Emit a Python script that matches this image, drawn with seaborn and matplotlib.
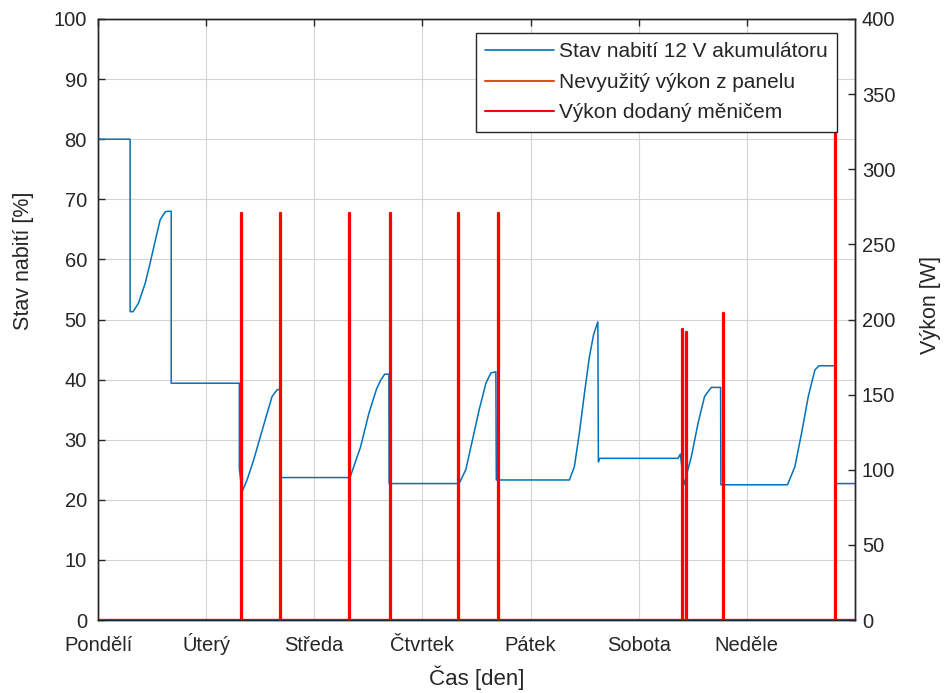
import numpy as np
import pandas as pd
import matplotlib
matplotlib.use("Agg")
import matplotlib.pyplot as plt
from matplotlib.lines import Line2D
import seaborn as sns

# ---------------- data ----------------
day_ticks = [0, 1, 2, 3, 4, 5, 6]
day_labels = ["Pondělí", "Úterý", "Středa", "Čtvrtek", "Pátek", "Sobota", "Neděle"]

# state of charge of the 12 V battery [%] vs time [days]
soc_day = [0.000, 0.297, 0.297, 0.324, 0.374, 0.436, 0.482, 0.528, 0.575, 0.621,
           0.640, 0.677, 0.677, 1.307, 1.307, 1.332, 1.378, 1.439, 1.501, 1.564,
           1.610, 1.656, 1.682, 1.684, 2.320, 2.336, 2.428, 2.505, 2.577, 2.614,
           2.651, 2.690, 2.692, 3.339, 3.401, 3.463, 3.525, 3.587, 3.633, 3.679,
           3.683, 4.359, 4.405, 4.451, 4.498, 4.544, 4.583, 4.622, 4.627, 4.640,
           5.363, 5.385, 5.418, 5.487, 5.548, 5.609, 5.671, 5.757, 5.760, 6.376,
           6.444, 6.506, 6.568, 6.629, 6.666, 6.820, 6.822, 7.000]
soc_pct = [80.0, 80.0, 51.3, 51.3, 52.7, 56.0, 59.4, 63.0, 66.6, 67.9,
           68.0, 68.0, 39.4, 39.4, 25.2, 21.3, 23.3, 26.6, 30.5, 34.4,
           37.2, 38.3, 38.4, 23.7, 23.7, 24.0, 28.8, 34.4, 38.5, 39.9,
           40.9, 40.9, 22.7, 22.7, 25.0, 30.0, 35.0, 39.4, 41.1, 41.3,
           23.3, 23.3, 25.5, 31.1, 37.7, 43.8, 47.5, 49.6, 26.3, 26.9,
           26.9, 27.6, 22.5, 27.2, 32.7, 37.2, 38.7, 38.7, 22.5, 22.5,
           25.5, 31.1, 37.2, 41.6, 42.3, 42.3, 22.7, 22.7]

# unused panel power [W] (stays at zero)
unused_day = [0.0, 7.0]
unused_w = [0.0, 0.0]

# power delivered by the inverter [W]: short pulses
spike_day = [1.325, 1.680, 2.320, 2.697, 3.330, 3.701, 5.398, 5.440, 5.778, 6.818]
spike_w = [271, 271, 271, 271, 271, 271, 194, 192, 204, 360]
spike_len = 0.010  # pulse duration [days]

# build pulse series from the spike table
inv_day, inv_w = [0.0], [0.0]
for d, w in zip(spike_day, spike_w):
    inv_day += [d, d, d + spike_len, d + spike_len]
    inv_w += [0.0, w, w, 0.0]
inv_day.append(7.0)
inv_w.append(0.0)

df_soc = pd.DataFrame({"den": soc_day, "soc": soc_pct})
df_unused = pd.DataFrame({"den": unused_day, "p": unused_w})
df_inv = pd.DataFrame({"den": inv_day, "p": inv_w})

# ---------------- style ----------------
sns.set_theme(style="white")
plt.rcParams["font.family"] = ["Liberation Sans", "DejaVu Sans"]
txt = "#262626"
plt.rcParams["text.color"] = txt
plt.rcParams["axes.labelcolor"] = txt
plt.rcParams["xtick.color"] = txt
plt.rcParams["ytick.color"] = txt

c_blue = "#0072BD"
c_orange = "#D95319"
c_red = "#FF0000"

fig = plt.figure(figsize=(9.5, 6.93), dpi=100)
ax = fig.add_axes([98 / 950, 1 - 620 / 693, (855 - 98) / 950, (620 - 19) / 693])

sns.lineplot(data=df_soc, x="den", y="soc", ax=ax, color=c_blue, lw=1.1,
             estimator=None, sort=False, legend=False)

ax2 = ax.twinx()
sns.lineplot(data=df_unused, x="den", y="p", ax=ax2, color=c_orange, lw=1.5,
             estimator=None, sort=False, legend=False)
sns.lineplot(data=df_inv, x="den", y="p", ax=ax2, color=c_red, lw=1.6,
             estimator=None, sort=False, legend=False)

ax.set_xlim(0, 7)
ax.set_ylim(0, 100)
ax2.set_ylim(0, 400)
ax.set_xticks(day_ticks)
ax.set_xticklabels(day_labels)
ax.set_yticks(range(0, 101, 10))
ax2.set_yticks(range(0, 401, 50))

ax.grid(True, color="#d4d4d4", lw=0.8)
ax.set_axisbelow(True)

for a in (ax, ax2):
    for s in a.spines.values():
        s.set_color(txt)
        s.set_linewidth(1.0)
ax.tick_params(axis="y", direction="in", length=5, width=1.0, labelsize=14.5,
               right=False, pad=8)
ax.tick_params(axis="x", direction="in", length=5, width=1.0, labelsize=14.5,
               top=True, pad=22)
for t in ax.get_xticklabels():
    t.set_va("baseline")
ax2.tick_params(axis="y", direction="in", length=5, width=1.0, labelsize=14.5, pad=5)

ax.set_xlabel("Čas [den]", fontsize=16)
ax.set_ylabel("Stav nabití [%]", fontsize=15.5)
ax2.set_ylabel("Výkon [W]", fontsize=15.5)
ax.xaxis.set_label_coords(0.5, (620 - 666) / 601)
ax.yaxis.set_label_coords((34 - 98) / 757, (620 - 261) / 601)
ax2.yaxis.set_label_coords((920 - 98) / 757, (620 - 305) / 601)

handles = [Line2D([], [], color=c_blue, lw=1.2),
           Line2D([], [], color=c_orange, lw=1.5),
           Line2D([], [], color=c_red, lw=1.5)]
labels = ["Stav nabití 12 V akumulátoru", "Nevyužitý výkon z panelu",
          "Výkon dodaný měničem"]
leg = ax2.legend(handles, labels, loc="upper right",
                 bbox_to_anchor=((837 - 98) / 757, (620 - 33) / 601),
                 fontsize=15, frameon=True, fancybox=False, framealpha=1,
                 edgecolor=txt, handlelength=3.3, handletextpad=0.25,
                 borderpad=0.45, labelspacing=0.55, borderaxespad=0)
leg.get_frame().set_linewidth(1.0)
leg.set_zorder(10)

fig.savefig("out.png", dpi=100)
